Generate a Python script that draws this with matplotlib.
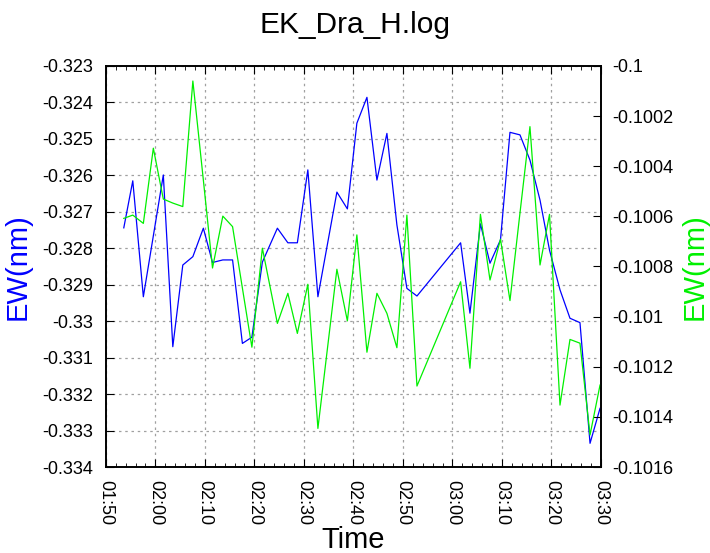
import matplotlib
matplotlib.use('Agg')
import matplotlib.pyplot as plt
import matplotlib.dates as mdates
from matplotlib.ticker import MultipleLocator, FuncFormatter
import pandas as pd

plt.rcParams['font.family'] = ['Liberation Sans', 'DejaVu Sans']

# data
times = ['01:53:38', '01:55:27', '01:57:35', '01:59:36', '02:01:37', '02:03:32',
         '02:05:33', '02:07:35', '02:09:42', '02:11:33', '02:13:38', '02:15:36',
         '02:17:35', '02:19:30', '02:21:37', '02:24:39', '02:26:46', '02:28:41',
         '02:30:48', '02:32:50', '02:36:40', '02:38:47', '02:40:42', '02:42:44',
         '02:44:45', '02:46:46', '02:48:47', '02:50:48', '02:52:50', '03:01:39',
         '03:03:32', '03:05:39', '03:07:35', '03:09:42', '03:11:37', '03:13:38',
         '03:15:39', '03:17:41', '03:19:36', '03:21:43', '03:23:44', '03:25:45',
         '03:27:47', '03:29:48']

ew_left = [-0.32744, -0.32615, -0.32933, -0.32766, -0.32599, -0.33070,
           -0.32846, -0.32823, -0.32745, -0.32839, -0.32832, -0.32832,
           -0.33061, -0.33044, -0.32838, -0.32745, -0.32785, -0.32785,
           -0.32585, -0.32933, -0.32646, -0.32692, -0.32457, -0.32386,
           -0.32613, -0.32485, -0.32736, -0.32910, -0.32931, -0.32785,
           -0.32978, -0.32733, -0.32841, -0.32777, -0.32482, -0.32489,
           -0.32558, -0.32668, -0.32805, -0.32914, -0.32992, -0.33004,
           -0.33335, -0.33239]

ew_right = [-0.100608, -0.100595, -0.100628, -0.100328, -0.100531, -0.100547,
            -0.100561, -0.100060, -0.100455, -0.100806, -0.100599, -0.100641,
            -0.100886, -0.101122, -0.100727, -0.101027, -0.100907, -0.101067,
            -0.100871, -0.101446, -0.100811, -0.101017, -0.100674, -0.101142,
            -0.100907, -0.100987, -0.101124, -0.100595, -0.101277, -0.100861,
            -0.101206, -0.100592, -0.100854, -0.100691, -0.100936, -0.100587,
            -0.100242, -0.100794, -0.100592, -0.101353, -0.101091, -0.101106,
            -0.101472, -0.101273]

t = pd.to_datetime(['2000-01-01 ' + s for s in times])

fig = plt.figure(figsize=(7.1, 5.53), dpi=100)
ax = fig.add_axes([0.149, 0.1555, 0.6975, 0.7252])
ax2 = ax.twinx()

ax.plot(t, ew_left, color='#0000ff', lw=0.9, zorder=3)
ax2.plot(t, ew_right, color='#00f000', lw=0.9)

ax.set_xlim(pd.Timestamp('2000-01-01 01:50'), pd.Timestamp('2000-01-01 03:30'))
ax.set_ylim(-0.334, -0.323)
ax2.set_ylim(-0.1016, -0.1)

fmt = FuncFormatter(lambda v, p: '%g' % round(v, 6))
ax.yaxis.set_major_locator(MultipleLocator(0.001))
ax.yaxis.set_major_formatter(fmt)
ax2.yaxis.set_major_locator(MultipleLocator(0.0002))
ax2.yaxis.set_major_formatter(fmt)

ax.xaxis.set_major_locator(mdates.MinuteLocator(byminute=range(0, 60, 10)))
ax.xaxis.set_minor_locator(mdates.MinuteLocator(byminute=range(0, 60, 2)))
ax.xaxis.set_major_formatter(mdates.DateFormatter('%H:%M'))

ax.tick_params(axis='x', which='both', direction='in', top=True, labelsize=13,
               labelrotation=270, pad=9)
ax.tick_params(axis='x', which='major', length=6)
ax.tick_params(axis='x', which='minor', length=3)
ax.tick_params(axis='y', direction='in', length=6, labelsize=13, pad=9)
ax2.tick_params(axis='y', direction='in', length=6, labelsize=13, pad=8)
for lbl in ax.get_xticklabels():
    lbl.set_va('top')

ax.grid(True, which='major', color='#a0a0a0', linestyle=(0, (2, 3)), lw=0.9)

for a in (ax, ax2):
    for s in a.spines.values():
        s.set_linewidth(1.2)

ax.set_xlabel('Time', fontsize=21, labelpad=1)
ax.set_ylabel('EW(nm)', fontsize=21, color='#0000ff', labelpad=8)
ax2.set_ylabel('EW(nm)', fontsize=21, color='#00f000', rotation=90, labelpad=5)
fig.suptitle('EK_Dra_H.log', fontsize=21.5, y=0.98)

fig.savefig('out.png', dpi=100)
